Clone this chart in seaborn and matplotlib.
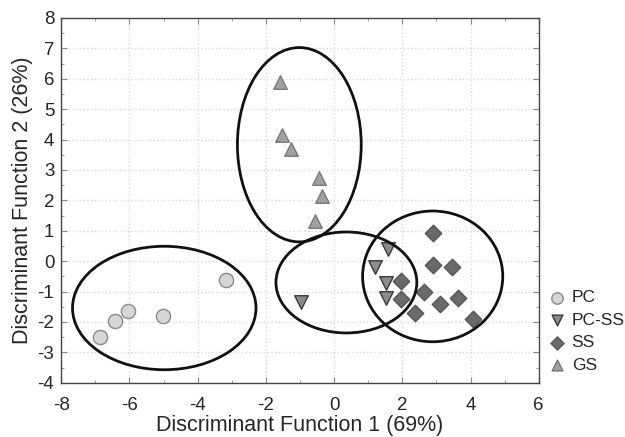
import matplotlib
matplotlib.use("Agg")
import matplotlib.pyplot as plt
from matplotlib.patches import Ellipse
import seaborn as sns
import pandas as pd

# ---- data ----
pc_x = [-6.85, -6.41, -6.05, -5.02, -3.17]
pc_y = [-2.49, -1.97, -1.63, -1.80, -0.62]
pcss_x = [-0.97, 1.57, 1.21, 1.53, 1.53]
pcss_y = [-1.35, 0.40, -0.20, -0.72, -1.20]
ss_x = [2.91, 2.89, 3.46, 1.96, 2.65, 1.96, 3.11, 3.63, 2.38, 4.07]
ss_y = [0.94, -0.13, -0.19, -0.65, -1.01, -1.26, -1.42, -1.21, -1.69, -1.91]
gs_x = [-1.60, -1.53, -1.27, -0.45, -0.36, -0.56]
gs_y = [5.90, 4.15, 3.69, 2.72, 2.15, 1.32]
groups = ["PC", "PC-SS", "SS", "GS"]

# ellipses: center x, center y, width, height
ell_cx = [-4.98, 0.36, 2.89, -1.02]
ell_cy = [-1.54, -0.70, -0.50, 3.83]
ell_w = [5.38, 4.13, 4.11, 3.63]
ell_h = [4.06, 3.32, 4.30, 6.39]

df = pd.DataFrame({
    "x": pc_x + pcss_x + ss_x + gs_x,
    "y": pc_y + pcss_y + ss_y + gs_y,
    "group": ["PC"] * len(pc_x) + ["PC-SS"] * len(pcss_x) + ["SS"] * len(ss_x) + ["GS"] * len(gs_x),
})

sns.set_style("ticks")
plt.rcParams["font.family"] = ["Liberation Sans", "DejaVu Sans"]
plt.rcParams["axes.unicode_minus"] = False

fig = plt.figure(figsize=(6.25, 4.37), dpi=100)
ax = fig.add_axes([0.098, 0.124, 0.764, 0.835])

palette = {"PC": "#d6d6d6", "PC-SS": "#8c8c8c", "SS": "#6a6a6a", "GS": "#a0a0a0"}
markers = {"PC": "o", "PC-SS": "v", "SS": "D", "GS": "^"}
edges = {"PC": "#8a8a8a", "PC-SS": "#3a3a3a", "SS": "#555555", "GS": "#7a7a7a"}
sizes = {"PC": 105, "PC-SS": 95, "SS": 70, "GS": 95}

for g in groups:
    sub = df[df.group == g]
    sns.scatterplot(data=sub, x="x", y="y", marker=markers[g], color=palette[g],
                    edgecolor=edges[g], linewidth=1.0, s=sizes[g], ax=ax,
                    label=g, zorder=3)

for cx, cy, w, h in zip(ell_cx, ell_cy, ell_w, ell_h):
    ax.add_patch(Ellipse((cx, cy), w, h, fill=False, edgecolor="#111111", lw=2.0, zorder=4))

ax.set_xlim(-8, 6)
ax.set_ylim(-4, 8)
ax.set_xticks(range(-8, 7, 2))
ax.set_yticks(range(-4, 9, 1))
ax.set_xticks(range(-7, 7, 2), minor=True)
ax.set_yticks([v + 0.5 for v in range(-4, 8)], minor=True)
ax.grid(True, which="major", color="#d8d8d8", linestyle=":", linewidth=1.0)
ax.set_axisbelow(True)
ax.tick_params(axis="both", which="major", labelsize=13.5, direction="in", length=4,
               color="#888888", top=True, right=True, pad=5)
ax.tick_params(axis="x", which="major", pad=10)
ax.tick_params(axis="both", which="minor", direction="in", length=2, color="#888888",
               top=True, right=True)
for s in ax.spines.values():
    s.set_color("#444444")
    s.set_linewidth(1.0)
ax.set_xlabel("Discriminant Function 1 (69%)", fontsize=15.5, labelpad=1)
ax.set_ylabel("Discriminant Function 2 (26%)", fontsize=15.5, labelpad=3)

leg = ax.legend(loc="upper left", bbox_to_anchor=(0.866, 0.352), bbox_transform=fig.transFigure,
                frameon=False, fontsize=12.5, handletextpad=0.35, labelspacing=0.42,
                borderaxespad=0, handlelength=1.0, markerscale=0.8)

fig.savefig("out.png", dpi=100)
